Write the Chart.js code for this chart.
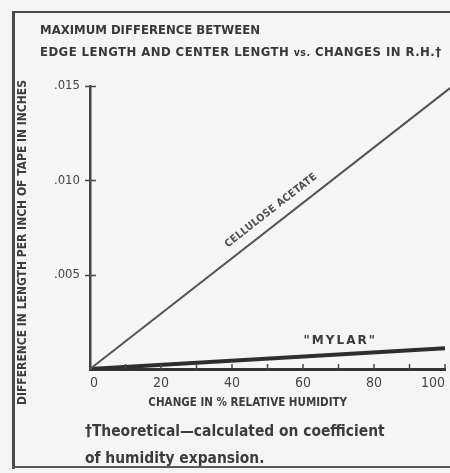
<!DOCTYPE html>
<html><head><meta charset="utf-8">
<script src="https://cdn.jsdelivr.net/npm/chart.js@4/dist/chart.umd.min.js"></script>
<style>
html,body{margin:0;padding:0;background:#f5f5f5;overflow:hidden;}
#wrap{position:relative;width:450px;height:473px;overflow:hidden;background:#f5f5f5;}
.bar{position:absolute;background:#4a4a4a;}
#c{position:absolute;left:0;top:0;}
.t{position:absolute;font-family:'DejaVu Sans Condensed','DejaVu Sans',sans-serif;color:#383838;white-space:nowrap;}
</style></head>
<body>
<div id="wrap">
<div class="bar" style="left:12px;top:11px;width:3px;height:458px;"></div>
<div class="bar" style="left:12px;top:11px;width:438px;height:2px;"></div>
<div class="bar" style="left:12px;top:466px;width:438px;height:2px;background:#5a5a5a;"></div>
<canvas id="c" width="450" height="473"></canvas>
<div class="t" style="left:40px;top:22px;font-size:13px;line-height:16px;font-weight:bold;">MAXIMUM DIFFERENCE BETWEEN</div>
<div class="t" style="left:40px;top:44px;font-size:13px;line-height:16px;font-weight:bold;letter-spacing:0.45px;">EDGE LENGTH AND CENTER LENGTH <span style="font-size:10.5px">vs.</span> CHANGES IN R.H.†</div>
<div class="t" style="left:85px;top:418px;font-size:15.4px;line-height:27px;font-weight:bold;color:#3c3c3c;">†Theoretical—calculated on coefficient<br>of humidity expansion.</div>
</div>
<script>
// ---- data ----
const celluloseRH   = [0, 101.5];
const celluloseDiff = [0, 0.0149];
const mylarRH       = [0, 100];
const mylarDiff     = [0, 0.0011];
const xLabeledTicks = [0, 20, 40, 60, 80, 100];
const yTickValues   = [0.005, 0.010, 0.015];
const yTickText     = ['.005', '.010', '.015'];
const seriesNames   = ['CELLULOSE ACETATE', '"MYLAR"'];
const xTitle = 'CHANGE IN % RELATIVE HUMIDITY';
const yTitle = 'DIFFERENCE IN LENGTH PER INCH OF TAPE IN INCHES';

const toPts = (xs, ys) => xs.map((x, i) => ({x, y: ys[i]}));
const FONT = "'DejaVu Sans Condensed','DejaVu Sans',sans-serif";
const NB = n => '\u00a0'.repeat(n);

// inline label placement (in data units)
const labelAnchors = [
  {series: 0, x: 51, y: 0.0084, size: 10.5, spacing: 0.3, rotate: true, color: '#505050'},
  {series: 1, x: 70.5, y: 0.00150, size: 12, spacing: 2, rotate: false, color: '#3a3a3a', family: "'DejaVu Sans',sans-serif"}
];

const tickMarks = {
  id: 'tickMarks',
  afterDraw(chart) {
    const {ctx, scales: {x, y}} = chart;
    ctx.save();
    ctx.strokeStyle = '#4a4a4a';
    ctx.lineWidth = 1.5;
    y.ticks.forEach(t => {
      if (t.value <= 0) return;
      const py = Math.round(y.getPixelForValue(t.value)) + 0.5;
      ctx.beginPath(); ctx.moveTo(x.left - 5, py); ctx.lineTo(x.left + 6, py); ctx.stroke();
    });
    x.ticks.forEach(t => {
      if (t.value <= 0) return;
      const px = x.getPixelForValue(t.value);
      ctx.beginPath(); ctx.moveTo(px, y.bottom - 5); ctx.lineTo(px, y.bottom); ctx.stroke();
    });
    ctx.restore();
  }
};

const lineLabels = {
  id: 'lineLabels',
  afterDatasetsDraw(chart) {
    const {ctx, scales: {x, y}} = chart;
    labelAnchors.forEach(a => {
      const meta = chart.getDatasetMeta(a.series);
      const p0 = meta.data[0], p1 = meta.data[meta.data.length - 1];
      const ang = a.rotate ? Math.atan2(p1.y - p0.y, p1.x - p0.x) : 0;
      ctx.save();
      ctx.translate(x.getPixelForValue(a.x), y.getPixelForValue(a.y));
      ctx.rotate(ang);
      ctx.font = 'bold ' + a.size + 'px ' + (a.family || FONT);
      ctx.letterSpacing = a.spacing + 'px';
      ctx.fillStyle = a.color;
      ctx.textAlign = 'center';
      ctx.textBaseline = 'middle';
      ctx.fillText(seriesNames[a.series], 0, 0);
      ctx.restore();
    });
  }
};

new Chart(document.getElementById('c'), {
  type: 'line',
  data: {
    datasets: [
      {label: seriesNames[0], data: toPts(celluloseRH, celluloseDiff), borderColor: '#555555', borderWidth: 2, pointRadius: 0, clip: false, tension: 0},
      {label: seriesNames[1], data: toPts(mylarRH, mylarDiff), borderColor: '#2e2e2e', borderWidth: 4, pointRadius: 0, tension: 0}
    ]
  },
  options: {
    responsive: false,
    animation: false,
    events: [],
    layout: {padding: {top: 86, right: 5, left: 0, bottom: 0}},
    plugins: {legend: {display: false}, title: {display: false}, tooltip: {enabled: false}},
    scales: {
      x: {
        type: 'linear', min: 0, max: 100,
        afterFit(s) { s.height = 104; s.paddingLeft = 0; s.paddingRight = 0; },
        ticks: {
          stepSize: 10, autoSkip: false, maxRotation: 0, padding: 6, align: 'inner',
          color: '#444', font: {family: FONT, size: 14},
          callback: v => xLabeledTicks.includes(v) ? String(v) : ''
        },
        grid: {display: true, drawOnChartArea: false, drawTicks: false},
        border: {display: true, color: '#333', width: 3},
        title: {display: true, text: xTitle + NB(11), color: '#3c3c3c',
                font: {family: FONT, size: 11.5, weight: 'bold'}, padding: {top: 0, bottom: 63}}
      },
      y: {
        type: 'linear', min: 0, max: 0.015,
        afterFit(s) { s.width = 90; },
        ticks: {
          stepSize: 0.005, padding: 10, color: '#444', font: {family: FONT, size: 13},
          callback: v => { const i = yTickValues.findIndex(t => Math.abs(t - v) < 1e-9); return i >= 0 ? yTickText[i] : ''; }
        },
        grid: {display: true, drawOnChartArea: false, drawTicks: false},
        border: {display: true, color: '#444', width: 2.5},
        title: {display: true, text: yTitle + NB(8), color: '#3c3c3c',
                font: {family: FONT, size: 12, weight: 'bold'}, padding: {top: 16, bottom: 0}}
      }
    }
  },
  plugins: [tickMarks, lineLabels]
});
</script>
</body></html>
